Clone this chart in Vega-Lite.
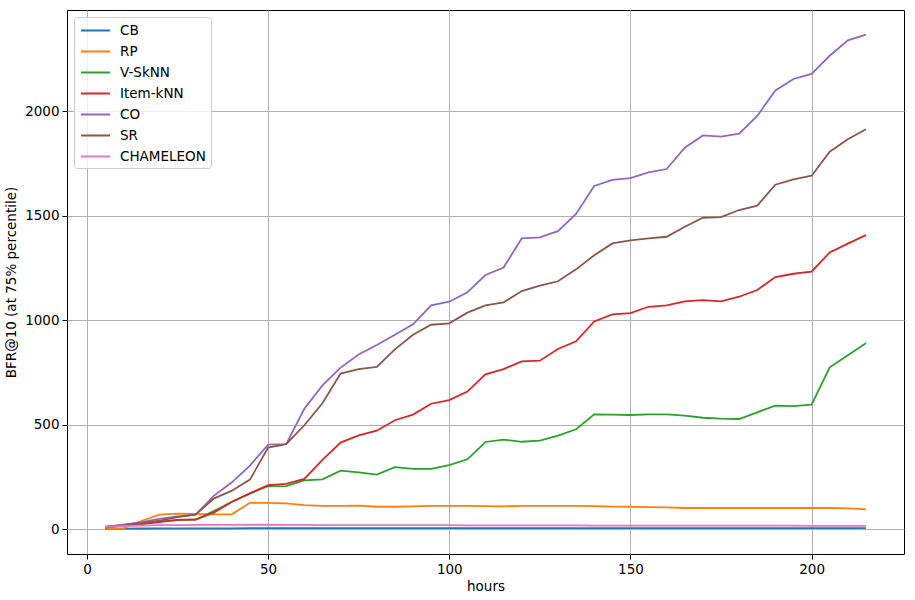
{
  "$schema": "https://vega.github.io/schema/vega-lite/v6.json",
  "width": 837,
  "height": 544,
  "autosize": {"type": "none"},
  "padding": {"left": 67, "top": 10, "right": 11, "bottom": 46},
  "background": "white",
  "config": {
    "font": "DejaVu Sans",
    "view": {"stroke": "black", "strokeWidth": 1},
    "axis": {
      "domain": false,
      "grid": true,
      "gridColor": "#b0b0b0",
      "gridWidth": 1,
      "tickColor": "black",
      "tickSize": 5,
      "labelFontSize": 13.5,
      "labelColor": "black",
      "titleFontSize": 13.5,
      "titleFontWeight": "normal",
      "titleColor": "black",
      "labelPadding": 3
    }
  },
  "data": {
    "values": [
      {"h":5,"CB":2,"RP":2,"V-SkNN":12,"Item-kNN":8,"CO":12,"SR":12,"CHAMELEON":12},
      {"h":10,"CB":3,"RP":5,"V-SkNN":20,"Item-kNN":18,"CO":22,"SR":20,"CHAMELEON":16},
      {"h":15,"CB":4,"RP":40,"V-SkNN":28,"Item-kNN":25,"CO":35,"SR":30,"CHAMELEON":18},
      {"h":20,"CB":5,"RP":70,"V-SkNN":38,"Item-kNN":35,"CO":50,"SR":42,"CHAMELEON":20},
      {"h":25,"CB":5,"RP":75,"V-SkNN":44,"Item-kNN":45,"CO":62,"SR":58,"CHAMELEON":20},
      {"h":30,"CB":5,"RP":74,"V-SkNN":46,"Item-kNN":47,"CO":70,"SR":70,"CHAMELEON":21},
      {"h":35,"CB":5,"RP":72,"V-SkNN":87,"Item-kNN":80,"CO":160,"SR":147,"CHAMELEON":21},
      {"h":40,"CB":5,"RP":72,"V-SkNN":132,"Item-kNN":131,"CO":225,"SR":185,"CHAMELEON":21},
      {"h":45,"CB":6,"RP":127,"V-SkNN":172,"Item-kNN":172,"CO":305,"SR":238,"CHAMELEON":22},
      {"h":50,"CB":6,"RP":127,"V-SkNN":206,"Item-kNN":211,"CO":405,"SR":391,"CHAMELEON":22},
      {"h":55,"CB":6,"RP":124,"V-SkNN":207,"Item-kNN":218,"CO":408,"SR":408,"CHAMELEON":21},
      {"h":60,"CB":6,"RP":116,"V-SkNN":234,"Item-kNN":241,"CO":577,"SR":498,"CHAMELEON":21},
      {"h":65,"CB":6,"RP":112,"V-SkNN":239,"Item-kNN":332,"CO":689,"SR":603,"CHAMELEON":20},
      {"h":70,"CB":6,"RP":112,"V-SkNN":281,"Item-kNN":415,"CO":774,"SR":745,"CHAMELEON":20},
      {"h":75,"CB":6,"RP":113,"V-SkNN":273,"Item-kNN":450,"CO":837,"SR":767,"CHAMELEON":20},
      {"h":80,"CB":6,"RP":108,"V-SkNN":262,"Item-kNN":472,"CO":882,"SR":777,"CHAMELEON":20},
      {"h":85,"CB":6,"RP":108,"V-SkNN":298,"Item-kNN":522,"CO":931,"SR":861,"CHAMELEON":20},
      {"h":90,"CB":6,"RP":110,"V-SkNN":289,"Item-kNN":549,"CO":981,"SR":931,"CHAMELEON":20},
      {"h":95,"CB":6,"RP":112,"V-SkNN":289,"Item-kNN":601,"CO":1072,"SR":979,"CHAMELEON":20},
      {"h":100,"CB":6,"RP":112,"V-SkNN":307,"Item-kNN":618,"CO":1089,"SR":986,"CHAMELEON":20},
      {"h":105,"CB":6,"RP":112,"V-SkNN":335,"Item-kNN":659,"CO":1134,"SR":1037,"CHAMELEON":19},
      {"h":110,"CB":6,"RP":111,"V-SkNN":418,"Item-kNN":742,"CO":1217,"SR":1072,"CHAMELEON":19},
      {"h":115,"CB":6,"RP":110,"V-SkNN":429,"Item-kNN":767,"CO":1253,"SR":1086,"CHAMELEON":19},
      {"h":120,"CB":6,"RP":112,"V-SkNN":419,"Item-kNN":804,"CO":1392,"SR":1140,"CHAMELEON":19},
      {"h":125,"CB":6,"RP":112,"V-SkNN":424,"Item-kNN":807,"CO":1397,"SR":1166,"CHAMELEON":19},
      {"h":130,"CB":6,"RP":112,"V-SkNN":448,"Item-kNN":863,"CO":1427,"SR":1187,"CHAMELEON":19},
      {"h":135,"CB":6,"RP":112,"V-SkNN":479,"Item-kNN":900,"CO":1509,"SR":1244,"CHAMELEON":19},
      {"h":140,"CB":6,"RP":111,"V-SkNN":550,"Item-kNN":995,"CO":1643,"SR":1311,"CHAMELEON":18},
      {"h":145,"CB":6,"RP":109,"V-SkNN":549,"Item-kNN":1029,"CO":1672,"SR":1368,"CHAMELEON":18},
      {"h":150,"CB":6,"RP":108,"V-SkNN":547,"Item-kNN":1035,"CO":1681,"SR":1383,"CHAMELEON":18},
      {"h":155,"CB":6,"RP":106,"V-SkNN":550,"Item-kNN":1065,"CO":1708,"SR":1392,"CHAMELEON":18},
      {"h":160,"CB":6,"RP":105,"V-SkNN":550,"Item-kNN":1072,"CO":1724,"SR":1400,"CHAMELEON":18},
      {"h":165,"CB":6,"RP":102,"V-SkNN":544,"Item-kNN":1091,"CO":1826,"SR":1448,"CHAMELEON":18},
      {"h":170,"CB":6,"RP":102,"V-SkNN":534,"Item-kNN":1097,"CO":1885,"SR":1491,"CHAMELEON":18},
      {"h":175,"CB":6,"RP":102,"V-SkNN":530,"Item-kNN":1091,"CO":1879,"SR":1494,"CHAMELEON":18},
      {"h":180,"CB":6,"RP":102,"V-SkNN":528,"Item-kNN":1113,"CO":1893,"SR":1528,"CHAMELEON":18},
      {"h":185,"CB":6,"RP":102,"V-SkNN":560,"Item-kNN":1145,"CO":1978,"SR":1549,"CHAMELEON":18},
      {"h":190,"CB":6,"RP":102,"V-SkNN":592,"Item-kNN":1207,"CO":2100,"SR":1649,"CHAMELEON":18},
      {"h":195,"CB":6,"RP":102,"V-SkNN":590,"Item-kNN":1223,"CO":2155,"SR":1675,"CHAMELEON":18},
      {"h":200,"CB":6,"RP":102,"V-SkNN":597,"Item-kNN":1233,"CO":2179,"SR":1692,"CHAMELEON":17},
      {"h":205,"CB":6,"RP":102,"V-SkNN":775,"Item-kNN":1325,"CO":2266,"SR":1807,"CHAMELEON":17},
      {"h":210,"CB":6,"RP":100,"V-SkNN":833,"Item-kNN":1367,"CO":2340,"SR":1867,"CHAMELEON":17},
      {"h":215,"CB":6,"RP":96,"V-SkNN":890,"Item-kNN":1408,"CO":2367,"SR":1914,"CHAMELEON":17}
    ]
  },
  "transform": [
    {"fold": ["CB","RP","V-SkNN","Item-kNN","CO","SR","CHAMELEON"], "as": ["method","value"]}
  ],
  "mark": {"type": "line", "strokeWidth": 1.8},
  "encoding": {
    "x": {
      "field": "h", "type": "quantitative", "title": "hours",
      "scale": {"domain": [-5.5, 225.5], "nice": false, "zero": false},
      "axis": {"values": [0,50,100,150,200], "titlePadding": 4}
    },
    "y": {
      "field": "value", "type": "quantitative", "title": "BFR@10 (at 75% percentile)",
      "scale": {"domain": [-118, 2485], "nice": false, "zero": false},
      "axis": {"values": [0,500,1000,1500,2000], "format": "d", "titlePadding": 6}
    },
    "color": {
      "field": "method", "type": "nominal",
      "scale": {
        "domain": ["CB","RP","V-SkNN","Item-kNN","CO","SR","CHAMELEON"],
        "range": ["#1f77b4","#ff7f0e","#2ca02c","#d62728","#9467bd","#8c564b","#e377c2"]
      },
      "legend": {
        "title": null,
        "orient": "top-left",
        "offset": 7,
        "fillColor": "rgba(255,255,255,0.8)",
        "strokeColor": "#cccccc",
        "cornerRadius": 3,
        "padding": 5,
        "symbolType": "M-2,0L2,0",
        "symbolSize": 210,
        "symbolStrokeWidth": 2,
        "symbolOffset": 8,
        "labelFontSize": 13.5,
        "labelColor": "black",
        "labelOffset": 16,
        "rowPadding": 6,
        "labelFont": "DejaVu Sans"
      }
    },
    "order": {"field": "h", "type": "quantitative"}
  }
}
